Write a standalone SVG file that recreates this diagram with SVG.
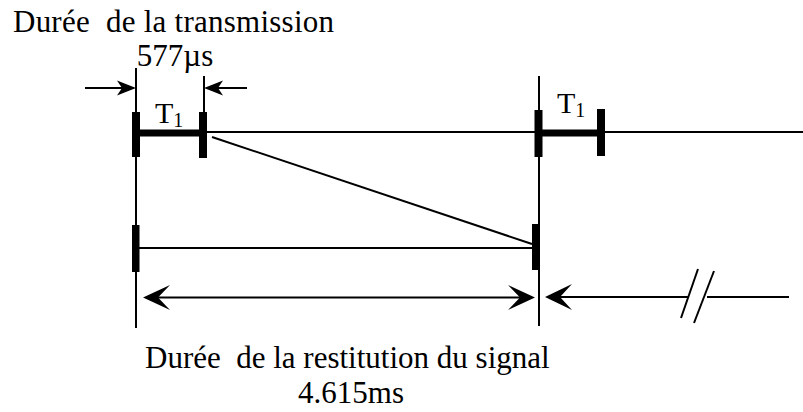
<svg xmlns="http://www.w3.org/2000/svg" width="803" height="412" viewBox="0 0 803 412">
<style>
.t{font-family:"Liberation Serif","Times New Roman","DejaVu Serif",serif;font-size:31px;fill:#000}
.t1{font-family:"Liberation Serif","Times New Roman","DejaVu Serif",serif;font-size:30px;fill:#000}
.sub{font-size:20px}
.ln{stroke:#000;stroke-width:2;fill:none}
.bar{fill:#000}
.ah{fill:#000}
</style>
<rect width="803" height="412" fill="#fff"/>
<g id="labels">
<text class="t" x="13" y="32" xml:space="preserve" textLength="321" lengthAdjust="spacing">Durée  de la transmission</text>
<text class="t" x="175" y="66" text-anchor="middle">577µs</text>
<text class="t" x="145" y="368" xml:space="preserve">Durée  de la restitution du signal</text>
<text class="t" x="351" y="403" text-anchor="middle">4.615ms</text>
</g>
<g id="connectors">
<line class="ln" x1="136" y1="68" x2="136" y2="328"/>
<line class="ln" x1="539" y1="76" x2="539" y2="326"/>
<line class="ln" x1="204" y1="76" x2="204" y2="112"/>
<line class="ln" x1="85" y1="88" x2="130" y2="88"/>
<path class="ah" d="M136,88 L117,80.5 L122,88 L117,95.5 Z"/>
<line class="ln" x1="247" y1="88" x2="210" y2="88"/>
<path class="ah" d="M204,88 L223,80.5 L218,88 L223,95.5 Z"/>
<line class="ln" x1="207" y1="132" x2="803" y2="132"/>
<line class="ln" x1="212" y1="137" x2="532" y2="244"/>
<line class="ln" x1="139" y1="248" x2="532" y2="248"/>
<line class="ln" x1="150" y1="297.5" x2="528" y2="297.5"/>
<path class="ah" d="M143,297.5 L170,285 L158,297.5 L170,310 Z"/>
<path class="ah" d="M535,297.5 L508,285 L520,297.5 L508,310 Z"/>
<path class="ah" d="M545,297 L572,284 L560,297 L572,310 Z"/>
<line class="ln" x1="555" y1="297" x2="688" y2="297"/>
<line class="ln" x1="707" y1="297" x2="789" y2="297"/>
<line class="ln" x1="698" y1="269" x2="681" y2="318"/>
<line class="ln" x1="714" y1="271" x2="694" y2="323"/>
</g>
<g id="slot1">
<rect class="bar" x="132" y="112" width="8" height="45"/>
<rect class="bar" x="136" y="129.5" width="67" height="7"/>
<rect class="bar" x="199" y="112" width="8" height="46"/>
<text class="t1" x="155" y="123">T<tspan class="sub" dy="4">1</tspan></text>
</g>
<g id="slot2">
<rect class="bar" x="534.5" y="110" width="8" height="47"/>
<rect class="bar" x="539" y="129.5" width="62" height="7"/>
<rect class="bar" x="597" y="109" width="8" height="47"/>
<text class="t1" x="557" y="113">T<tspan class="sub" dy="4">1</tspan></text>
</g>
<g id="receive">
<rect class="bar" x="132" y="225" width="7.5" height="47"/>
<rect class="bar" x="532" y="224" width="7.5" height="46"/>
</g>
</svg>
